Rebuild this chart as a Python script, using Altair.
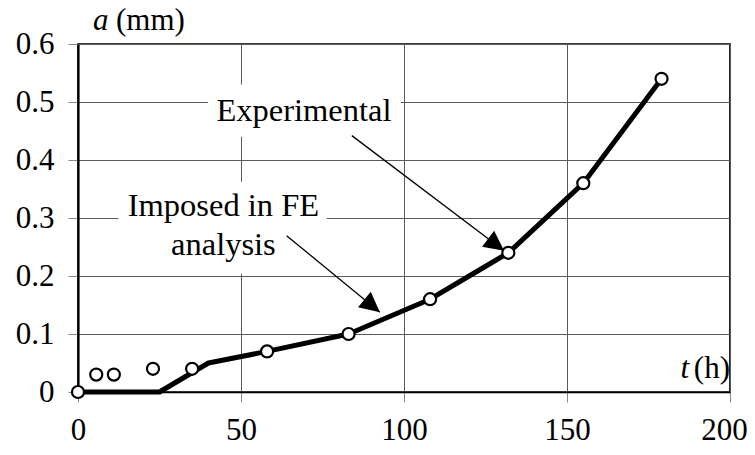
import math
import altair as alt
import pandas as pd

# ---- data ----
exp_t = [0, 5.6, 11, 23, 35, 58, 83, 108, 132, 155, 179]
exp_a = [0, 0.03, 0.03, 0.04, 0.04, 0.07, 0.10, 0.16, 0.24, 0.36, 0.54]

fe_t = [0, 25, 40, 58, 83, 108, 120, 132, 155, 179]
fe_a = [0, 0, 0.05, 0.07, 0.10, 0.16, 0.2, 0.24, 0.36, 0.54]

x_ticks = [0, 50, 100, 150, 200]
y_ticks = [0, 0.1, 0.2, 0.3, 0.4, 0.5, 0.6]

ann_text = ["Experimental", "Imposed in FE", "analysis"]
ann_t = [69.3, 44.6, 44.6]
ann_a = [0.4666, 0.3028, 0.2367]

box_t1 = [39.9, 12.4]
box_t2 = [99.0, 76.3]
box_a1 = [0.44, 0.204]
box_a2 = [0.53, 0.3626]

arrow_t1 = [84.0, 64.0]
arrow_a1 = [0.442, 0.2695]
arrow_t2 = [130.7, 92.6]
arrow_a2 = [0.2436, 0.1376]

# ---- layout ----
W, H = 652, 348
XMAX, YMAX = 200, 0.6
FONT = "Liberation Serif"

xs = alt.Scale(domain=[0, XMAX], nice=False, zero=False)
ys = alt.Scale(domain=[0, YMAX], nice=False, zero=False)

exp_df = pd.DataFrame({"t": exp_t, "a": exp_a})
fe_df = pd.DataFrame({"t": fe_t, "a": fe_a})
ann_df = pd.DataFrame({"txt": ann_text, "t": ann_t, "a": ann_a})
box_df = pd.DataFrame({"t": box_t1, "t2": box_t2, "a": box_a1, "a2": box_a2})

angles = []
for t1, a1, t2, a2 in zip(arrow_t1, arrow_a1, arrow_t2, arrow_a2):
    dx = (t2 - t1) * W / XMAX
    dy = -(a2 - a1) * H / YMAX
    angles.append(math.degrees(math.atan2(dy, dx)) % 360)
arr_df = pd.DataFrame({"t": arrow_t1, "a": arrow_a1, "t2": arrow_t2,
                       "a2": arrow_a2, "ang": angles})
head_df = pd.DataFrame({"t": arrow_t2, "a": arrow_a2, "ang": angles})

x_axis = alt.Axis(values=x_ticks, grid=True, gridColor="#5a5a5a", gridWidth=1,
                  domainColor="black", domainWidth=1.6, tickColor="#888888",
                  tickSize=10, tickWidth=1, labelFont=FONT, labelFontSize=31,
                  labelColor="black", labelPadding=13, title=None,
                  labelFlush=False, labelOverlap=False,
                  labelOffset={"condition": {"test": "datum.value == 200", "value": -6},
                               "value": 0})
y_axis = alt.Axis(values=y_ticks, grid=True, gridColor="#5a5a5a", gridWidth=1,
                  domainColor="black", domainWidth=2.2, tickColor="#888888",
                  tickSize=10, tickWidth=1, labelFont=FONT, labelFontSize=31,
                  labelColor="black", labelPadding=14, title=None,
                  format=".1~f", labelFlush=False, labelOverlap=False)

X = alt.X("t:Q", scale=xs, axis=x_axis)
Y = alt.Y("a:Q", scale=ys, axis=y_axis)

fe_line = alt.Chart(fe_df).mark_line(color="black", strokeWidth=5,
                                     strokeJoin="round", strokeCap="round").encode(x=X, y=Y)

boxes = alt.Chart(box_df).mark_rect(color="white", fill="white").encode(
    x=X, x2="t2:Q", y=Y, y2="a2:Q")

arrows = alt.Chart(arr_df).mark_rule(color="black", strokeWidth=1.3).encode(
    x=X, y=Y, x2="t2:Q", y2="a2:Q")

heads = alt.Chart(head_df).mark_point(shape="M0,0L-1,-0.5L-1,0.5Z", filled=True,
                                      color="black", opacity=1, size=1600,
                                      strokeWidth=0).encode(
    x=X, y=Y, angle=alt.Angle("ang:Q", scale=None))

labels = alt.Chart(ann_df).mark_text(font=FONT, fontSize=32.5, color="black",
                                     align="center", baseline="alphabetic").encode(
    x=X, y=Y, text="txt:N")

pts = alt.Chart(exp_df).mark_point(shape="circle", filled=True, fill="white",
                                   stroke="black", strokeWidth=2.2, size=145,
                                   opacity=1).encode(x=X, y=Y)

def title_text(txt, x, y, align, italic=False):
    return alt.Chart(pd.DataFrame({"lab": [txt]})).mark_text(
        font=FONT, fontSize=31, color="black", align=align,
        baseline="alphabetic", fontStyle="italic" if italic else "normal",
    ).encode(x=alt.value(x), y=alt.value(y), text="lab:N")

ytitle_a = title_text("a", 15, -14, "left", italic=True)
ytitle_u = title_text("(mm)", 38, -14, "left")
xtitle_t = title_text("t", 611, 334, "right", italic=True)
xtitle_u = title_text("(h)", 652, 334, "right")

chart = alt.layer(
    fe_line, boxes, arrows, heads, labels, pts,
    ytitle_a, ytitle_u, xtitle_t, xtitle_u,
).properties(
    width=W, height=H,
    autosize="none",
    padding={"left": 70, "top": 36, "right": 17, "bottom": 55},
    background="white",
).configure_view(
    stroke="black", strokeWidth=1.7,
)

chart.save("out.html", embed_options={"renderer": "svg", "actions": False})
